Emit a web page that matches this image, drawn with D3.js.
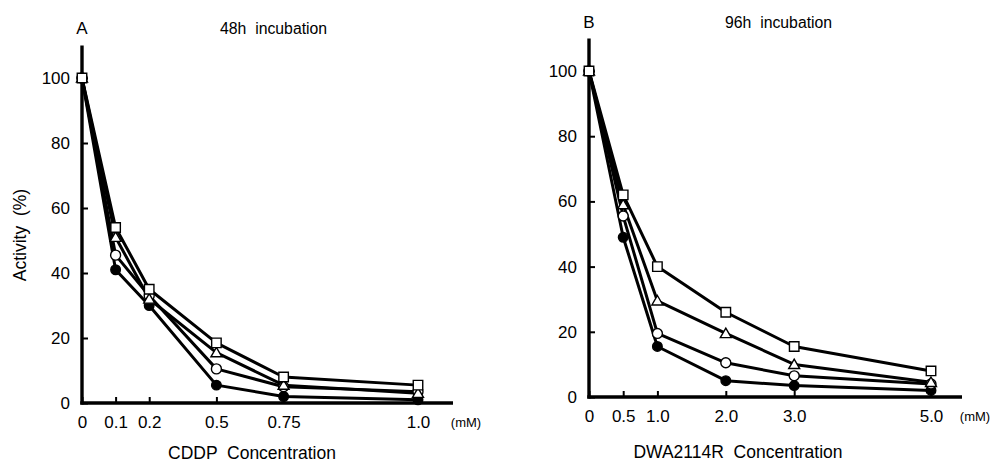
<!DOCTYPE html>
<html>
<head>
<meta charset="utf-8">
<script src="https://cdn.jsdelivr.net/npm/d3@7"></script>
<style>
  body { margin: 0; background: #fff; }
  text { font-family: "Liberation Sans", Arial, Helvetica, sans-serif; fill: #000; white-space: pre; }
</style>
</head>
<body>
<svg id="chart"></svg>
<script>
// Panel A: CDDP, 48h
var concA = [0, 0.1, 0.2, 0.5, 0.75, 1.0];
var labelsA = ["0", "0.1", "0.2", "0.5", "0.75", "1.0"];
var squareA = [100, 54, 35, 18.5, 8, 5.5];
var triangleA = [100, 51, 32, 15.5, 5.5, 3];
var circleA = [100, 45.5, 33, 10.5, 5, 3.5];
var filledA = [100, 41, 30, 5.5, 2, 1];

// Panel B: DWA2114R, 96h
var concB = [0, 0.5, 1, 2, 3, 5];
var labelsB = ["0", "0.5", "1.0", "2.0", "3.0", "5.0"];
var squareB = [100, 62, 40, 26, 15.5, 8];
var triangleB = [100, 59, 29.5, 19.5, 10, 4.5];
var circleB = [100, 55.5, 19.5, 10.5, 6.5, 4];
var filledB = [100, 49, 15.5, 5, 3.5, 2];

var yTicks = [0, 20, 40, 60, 80, 100];

var width = 994, height = 463;
var svg = d3.select("#chart").attr("width", width).attr("height", height);

// marker styles, drawn bottom to top
var markers = [
  { key: "filled", shape: d3.symbolCircle, size: 72, fill: "#000" },
  { key: "circle", shape: d3.symbolCircle, size: 78, fill: "#fff" },
  { key: "triangle", shape: d3.symbolTriangle, size: 52, fill: "#fff" },
  { key: "square", shape: d3.symbolSquare, size: 90, fill: "#fff" }
];

function drawPanel(p) {
  var g = svg.append("g").attr("transform", "translate(" + p.x0 + "," + p.y0 + ")");

  var y = d3.scaleLinear().domain([0, 110]).range([0, -p.yPx * 110]);

  // y axis
  var yAxis = d3.axisLeft(y).tickValues(yTicks).tickSize(-6).tickPadding(12).tickFormat(d3.format("d"));
  var ya = g.append("g").call(yAxis);
  ya.select(".domain").remove();
  ya.selectAll(".tick line").attr("stroke", "#000").attr("stroke-width", 2);
  ya.selectAll("text").style("font-size", "17px");
  g.append("line").attr("x1", 0).attr("x2", 0).attr("y1", 1.5).attr("y2", y(110))
    .attr("stroke", "#000").attr("stroke-width", 3.4);

  // x axis
  var xAxis = d3.axisBottom(p.x).tickValues(p.conc).tickSize(-6).tickPadding(13)
    .tickFormat(function (d, i) { return p.labels[i]; });
  var xa = g.append("g").call(xAxis);
  xa.select(".domain").remove();
  xa.selectAll(".tick line").attr("stroke", "#000").attr("stroke-width", 2);
  xa.selectAll("text").style("font-size", "17px");
  g.append("line").attr("x1", -1.7).attr("x2", p.axisEnd).attr("y1", 0).attr("y2", 0)
    .attr("stroke", "#000").attr("stroke-width", 3.4);

  g.append("text").attr("x", p.axisEnd + 13).attr("y", 15)
    .attr("text-anchor", "middle").attr("dy", "0.71em").style("font-size", "13px").text("(mM)");

  // lines
  var line = d3.line().x(function (d, i) { return p.x(p.conc[i]); }).y(function (d) { return y(d); });
  markers.forEach(function (m) {
    g.append("path").datum(p.series[m.key]).attr("d", line)
      .attr("fill", "none").attr("stroke", "#000").attr("stroke-width", 3).attr("stroke-linejoin", "round");
  });
  markers.forEach(function (m) {
    var sym = d3.symbol().type(m.shape).size(m.size);
    g.append("g").selectAll("path").data(p.series[m.key]).enter().append("path")
      .attr("transform", function (d, i) {
        var dy = m.key === "triangle" ? 1 : 0;
        return "translate(" + p.x(p.conc[i]) + "," + (y(d) + dy) + ")";
      })
      .attr("d", sym)
      .attr("fill", m.fill).attr("stroke", "#000").attr("stroke-width", 1.4);
  });

  // labels
  g.append("text").attr("x", 0).attr("y", y(110) - p.titleGap).attr("text-anchor", "middle")
    .style("font-size", "17px").text(p.letter);
  g.append("text").attr("x", p.titleX).attr("y", y(110) - p.titleGap)
    .style("font-size", "15.8px").text(p.title);
  g.append("text").attr("x", p.xTitleX).attr("y", p.xTitleY).attr("text-anchor", "middle")
    .style("font-size", "17.5px").text(p.xTitle);
}

// panel A x positions follow the uneven spacing of the original figure
var slotA = [0, 1, 2, 4, 6, 10];
var stepA = 33.6;
drawPanel({
  x0: 82, y0: 403, yPx: 3.25, axisEnd: 371, titleGap: 12,
  conc: concA, labels: labelsA,
  x: d3.scaleLinear().domain(concA).range(slotA.map(function (s) { return s * stepA; })),
  series: { square: squareA, triangle: triangleA, circle: circleA, filled: filledA },
  letter: "A", title: "48h  incubation", titleX: 138,
  xTitle: "CDDP  Concentration", xTitleX: 170, xTitleY: 56
});

drawPanel({
  x0: 589, y0: 397, yPx: 3.26, axisEnd: 373, titleGap: 10,
  conc: concB, labels: labelsB,
  x: d3.scaleLinear().domain([0, 5]).range([0, 342]),
  series: { square: squareB, triangle: triangleB, circle: circleB, filled: filledB },
  letter: "B", title: "96h  incubation", titleX: 136,
  xTitle: "DWA2114R  Concentration", xTitleX: 149, xTitleY: 61
});

// y axis title (panel A only)
svg.append("text")
  .attr("transform", "translate(26,235) rotate(-90)")
  .attr("text-anchor", "middle")
  .style("font-size", "17.5px")
  .text("Activity  (%)");
</script>
</body>
</html>
